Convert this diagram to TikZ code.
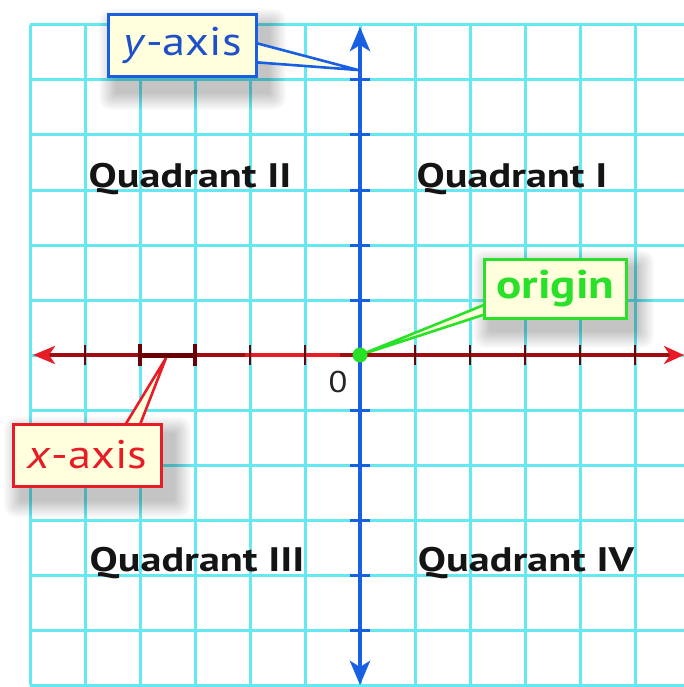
\documentclass[tikz,border=0pt]{standalone}
\usepackage{fontspec}
\setmainfont{PT Sans}
\usetikzlibrary{arrows.meta,calc}
\definecolor{gridc}{RGB}{100,232,242}
\definecolor{yblue}{RGB}{25,95,225}
\definecolor{ytext}{RGB}{30,80,200}
\definecolor{xred}{RGB}{160,12,18}
\definecolor{xbright}{RGB}{232,28,38}
\definecolor{xdark}{RGB}{105,0,5}
\definecolor{ogreen}{RGB}{40,225,40}
\definecolor{lblfill}{RGB}{255,255,222}
\definecolor{txtblack}{RGB}{20,20,20}
\pgfdeclarelayer{gridl}
\pgfdeclarelayer{shadowl}
\pgfdeclarelayer{ptrl}
\pgfsetlayers{gridl,shadowl,ptrl,main}
\newcommand{\wide}[2]{\scalebox{#1}[1]{#2}}
\tikzset{
  gridline/.style={draw=gridc, line width=3pt},
  ytick/.style={draw=yblue, line width=3pt},
  xtick/.style={draw=xdark, line width=2.4pt},
  lbl/.style={rectangle, fill=lblfill, line width=3pt, inner sep=0pt},
  ptr/.style={fill=lblfill, line width=2.6pt, line join=miter},
  quad/.style={text=txtblack, font=\fontsize{34}{34}\selectfont\bfseries, inner sep=0pt},
  shadowbox/.style={fill=black, opacity=0.018},
}
\begin{document}
\begin{tikzpicture}[x=1pt,y=-1pt]
\useasboundingbox (0,0) rectangle (683,687);
% grid
\begin{pgfonlayer}{gridl}
\fill[white] (0,0) rectangle (683,687);
\foreach \x in {30,85,...,690} \draw[gridline] (\x,25) -- (\x,685);
\foreach \y in {25,80,...,685} \draw[gridline] (30,\y) -- (690,\y);
\end{pgfonlayer}
% axes
\coordinate (ytop) at (360,27);
\coordinate (ybot) at (360,685);
\coordinate (xleft) at (33,355);
\coordinate (xright) at (684,355);
\coordinate (o) at (360,355);
\foreach \y in {80,135,190,245,300,410,465,520,575,630} \draw[ytick] (350,\y) -- (370,\y);
\draw[xred, line width=4pt, {Stealth[length=22pt,width=18pt,inset=6pt,color=xbright]}-{Stealth[length=20pt,width=18pt,inset=6pt,color=xbright]}] (xleft) -- (xright);
\draw[xdark, line width=5pt] (140,355) -- (195,355);
\draw[xbright, line width=4pt] (245,355) -- (340,355);
\foreach \x in {85,250,305,415,470,525,580,635} \draw[xtick] (\x,345) -- (\x,365);
\foreach \x in {140,195} \draw[xdark, line width=4pt] (\x,344) -- (\x,366);
\draw[yblue, line width=4.5pt, {Stealth[length=24pt,width=20pt,inset=6pt]}-{Stealth[length=24pt,width=20pt,inset=6pt]}] (ybot) -- (ytop);
% quadrant labels
\node[quad] (q2) at (190,179) {\wide{1.24}{Quadrant II}};
\node[quad] (q1) at (512,179) {\wide{1.24}{Quadrant I}};
\node[quad] (q3) at (197,563) {\wide{1.24}{Quadrant III}};
\node[quad] (q4) at (526,563) {\wide{1.24}{Quadrant IV}};
\node[text=black!85, font=\fontsize{30}{30}\selectfont, inner sep=0pt] (zero) at (338,382) {\wide{1.15}{0}};
% labels
\node[lbl, draw=yblue, text=ytext, minimum width=148pt, minimum height=62pt, font=\fontsize{40}{40}\selectfont] (ylab) at (182.5,45.5) {\wide{1.16}{\textit{y}-axis}};
\node[lbl, draw=xbright, text=xbright, minimum width=148pt, minimum height=62pt, font=\fontsize{40}{40}\selectfont] (xlab) at (87.5,455) {\wide{1.16}{\textit{x}-axis}};
\node[lbl, draw=ogreen, text=ogreen, minimum width=142pt, minimum height=59pt, font=\fontsize{40}{40}\selectfont\bfseries] (olab) at (555.5,289) {\wide{1.18}{origin}};
\node[circle, fill=ogreen, minimum size=15pt, inner sep=0pt] (odot) at (o) {};
\coordinate (ytip) at (358,70);
\coordinate (xtip) at (166,358);
% pointers
\begin{pgfonlayer}{ptrl}
\filldraw[ptr, draw=yblue] ([xshift=-6pt,yshift=3.5pt]ylab.east) -- (ytip) -- ([xshift=-6pt,yshift=-16.5pt]ylab.east) -- cycle;
\filldraw[ptr, draw=xbright] ([xshift=35.5pt,yshift=-6pt]xlab.north) -- (xtip) -- ([xshift=51pt,yshift=-6pt]xlab.north) -- cycle;
\filldraw[ptr, draw=ogreen] ([xshift=6pt,yshift=-14pt]olab.west) -- (odot.center) -- ([xshift=6pt,yshift=-24pt]olab.west) -- cycle;
\end{pgfonlayer}
% shadows
\begin{pgfonlayer}{shadowl}
\foreach \n/\dx/\dy in {ylab/10/14, xlab/10/12, olab/8/10} {
  \foreach \i in {1,...,12} {
    \fill[shadowbox, rounded corners=\i pt] ($(\n.north west)+(\dx-\i*1.5,\dy-\i*1.5)$) rectangle ($(\n.south east)+(\dx+\i*1.5,\dy+\i*1.5)$);
  }
}
\end{pgfonlayer}
\end{tikzpicture}
\end{document}
